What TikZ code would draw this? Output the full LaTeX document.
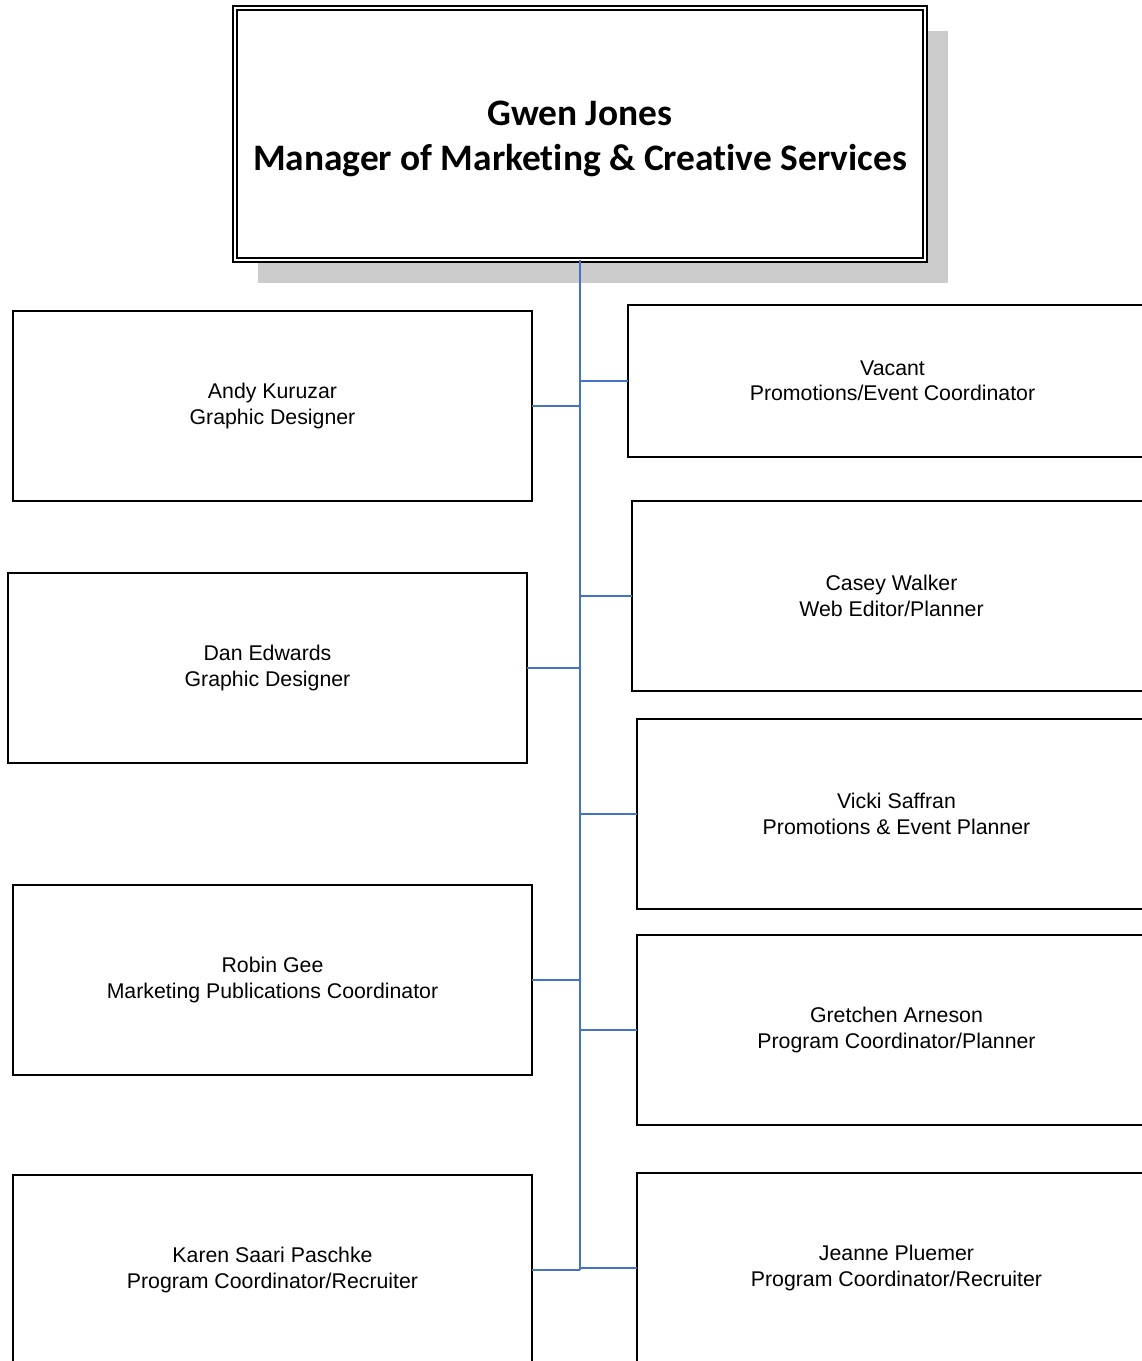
\documentclass[tikz,border=0pt]{standalone}
\usepackage{fontspec}
\setmainfont{Liberation Sans}
\newfontfamily\titlefont{Carlito}[Ligatures=NoCommon]
\usetikzlibrary{positioning,shadows}
\definecolor{linkblue}{HTML}{4472C4}

\begin{document}
\begin{tikzpicture}[
  x=1pt, y=-1pt,
  head/.style = {
    draw,
    shape=rectangle,
    line width=1.6pt,
    double,
    double distance=2.4pt,
    fill=white,
    minimum width=690pt,
    minimum height=252pt,
    inner sep=0pt,
    outer sep=0pt,
    align=center,
    font=\titlefont\bfseries\fontsize{37.4}{45}\selectfont,
    drop shadow={shadow xshift=23pt, shadow yshift=-23pt,
      fill=black!20, opacity=1}
  },
  staff/.style = {
    draw,
    shape=rectangle,
    line width=1.6pt,
    fill=white,
    minimum width=519pt,
    minimum height=190pt,
    inner sep=0pt,
    outer sep=0pt,
    align=center,
    font=\fontsize{21.3}{25.5}\selectfont
  },
  link/.style = {
    draw=linkblue,
    line width=1.6pt
  },
]
  \useasboundingbox (0,0) rectangle (1142,1361);
  \clip (0,0) rectangle (1142,1361);

  \node (gwen)[head] at (580,134) {\strut\\[-42pt]Gwen Jones\\Manager of Marketing \& Creative Services};

  % left column
  \node (andy)[staff] at (272.5,406) {Andy Kuruzar\\Graphic Designer};
  \node (dan)[
    below=72pt of andy,
    staff,
    xshift=-5pt
  ] {Dan Edwards\\Graphic Designer};
  \node (robin)[
    below=122pt of dan,
    staff,
    xshift=5pt
  ] {Robin Gee\\Marketing Publications Coordinator};
  \node (karen)[
    below=100pt of robin,
    staff
  ] {Karen Saari Paschke\\Program Coordinator/Recruiter};

  % right column
  \node (vacant)[
    staff,
    minimum width=529pt,
    minimum height=152pt
  ] at (892.5,381) {Vacant\\Promotions/Event Coordinator};
  \node (casey)[
    below=44pt of vacant,
    staff,
    xshift=-1pt
  ] {Casey Walker\\Web Editor/Planner};
  \node (vicki)[
    below=28pt of casey,
    staff,
    xshift=5pt
  ] {Vicki Saffran\\Promotions \& Event Planner};
  \node (gretchen)[
    below=26pt of vicki,
    staff
  ] {Gretchen Arneson\\Program Coordinator/Planner};
  \node (jeanne)[
    below=48pt of gretchen,
    staff
  ] {Jeanne Pluemer\\Program Coordinator/Recruiter};

  \draw[link] (gwen.south) -- (gwen.south |- karen.east);
  \draw[link] (andy.east) -- (andy.east -| gwen.south);
  \draw[link] (dan.east) -- (dan.east -| gwen.south);
  \draw[link] (robin.east) -- (robin.east -| gwen.south);
  \draw[link] (karen.east) -- (karen.east -| gwen.south);
  \draw[link] (vacant.west) -- (vacant.west -| gwen.south);
  \draw[link] (casey.west) -- (casey.west -| gwen.south);
  \draw[link] (vicki.west) -- (vicki.west -| gwen.south);
  \draw[link] (gretchen.west) -- (gretchen.west -| gwen.south);
  \draw[link] (jeanne.west) -- (jeanne.west -| gwen.south);
\end{tikzpicture}
\end{document}
